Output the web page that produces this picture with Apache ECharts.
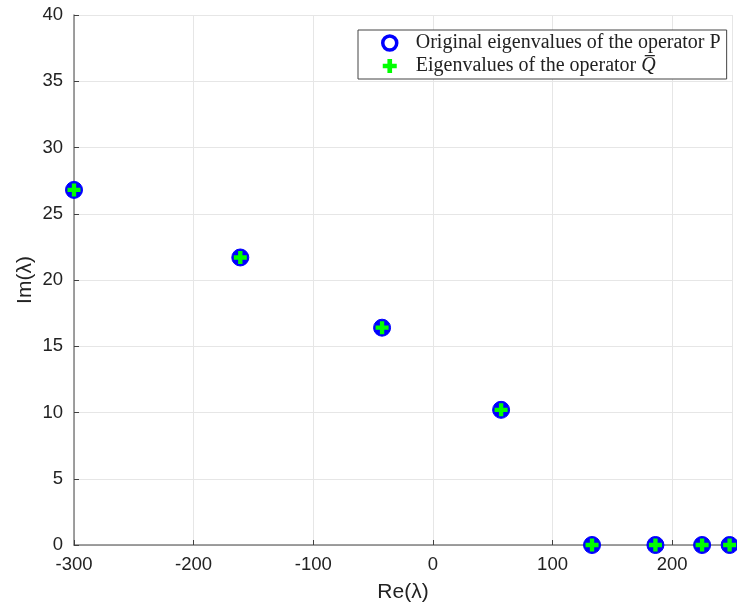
<!DOCTYPE html>
<html><head><meta charset="utf-8">
<script src="https://cdn.jsdelivr.net/npm/echarts@6/dist/echarts.min.js"></script>
<style>html,body{margin:0;padding:0;background:#fff}#c{width:737px;height:609px}</style>
</head><body><div id="c"></div>
<script>
const reP = [-300, -161, -42.5, 57, 133, 186, 225, 248];
const imP = [26.8, 21.7, 16.4, 10.2, 0, 0, 0, 0];
const reQ = [-300, -161, -42.5, 57, 133, 186, 225, 248];
const imQ = [26.8, 21.7, 16.4, 10.2, 0, 0, 0, 0];
const xTicks = [-300, -200, -100, 0, 100, 200];
const yTicks = [0, 5, 10, 15, 20, 25, 30, 35, 40];
const nameP = 'Original eigenvalues of the operator P';
const nameQ = 'Eigenvalues of the operator Q';

const plus = 'path://M-1,-3h2v2h2v2h-2v2h-2v-2h-2v-2h2z';
const chart = echarts.init(document.getElementById('c'));
const serif = 'Liberation Serif, Times New Roman, serif';
const axisCommon = {
  axisLine: {show: true, onZero: false, lineStyle: {color: '#808080', width: 1.5}},
  axisTick: {show: true, inside: true, length: 5, lineStyle: {color: '#404040'}},
  splitLine: {show: true, lineStyle: {color: '#e6e6e6', width: 1}},
  axisLabel: {color: '#222', fontFamily: 'Liberation Sans, Arial', fontSize: 18.5},
  nameTextStyle: {color: '#222', fontFamily: 'Liberation Sans, Arial', fontSize: 21}
};
chart.setOption({
  animation: false,
  grid: {left: 74, right: 5, top: 15, bottom: 64},
  xAxis: Object.assign({}, axisCommon, {
    type: 'value', min: -300, max: 250, interval: 100,
    name: 'Re(λ)', nameLocation: 'middle', nameGap: 37, nameMoveOverlap: false,
    axisLabel: Object.assign({}, axisCommon.axisLabel, {margin: 10,
      formatter: v => xTicks.includes(v) ? String(v) : ''})
  }),
  yAxis: Object.assign({}, axisCommon, {
    type: 'value', min: 0, max: 40, interval: 5,
    name: 'Im(λ)', nameLocation: 'middle', nameGap: 38, nameMoveOverlap: false,
    axisLabel: Object.assign({}, axisCommon.axisLabel, {margin: 11,
      formatter: v => yTicks.includes(v) ? String(v) : ''})
  }),
  legend: {
    left: 358, top: 30, orient: 'vertical',
    backgroundColor: '#fff', borderColor: '#444', borderWidth: 1,
    padding: [3, 6, 3, 23], itemGap: 3, itemWidth: 14, itemHeight: 14,
    formatter: function (n) {
      if (n === nameQ) return '{t|Eigenvalues of the operator }{q|Q\u0305}';
      return '{t|' + n + '}';
    },
    textStyle: {fontFamily: serif, fontSize: 20, color: '#222', padding: [0, 0, 0, 14],
      rich: {t: {fontFamily: serif, fontSize: 20, color: '#222'},
             q: {fontFamily: serif, fontSize: 20, fontStyle: 'italic', color: '#222'}}},
    data: [
      {name: nameP, icon: 'circle', itemStyle: {color: '#fff', borderColor: '#0000ff', borderWidth: 3.5}},
      {name: nameQ, icon: plus, itemStyle: {color: '#00ff00'}}
    ]
  },
  series: [
    {name: nameP, type: 'scatter', clip: false, symbol: 'circle', symbolSize: 17,
     itemStyle: {color: '#0000ff', borderColor: '#0000ff', borderWidth: 1, opacity: 1},
     data: reP.map((x, i) => [x, imP[i]])},
    {name: nameQ, type: 'scatter', clip: false, symbol: plus, symbolSize: 13,
     itemStyle: {color: '#00ff00', opacity: 1},
     data: reQ.map((x, i) => [x, imQ[i]])}
  ]
});
</script></body></html>
